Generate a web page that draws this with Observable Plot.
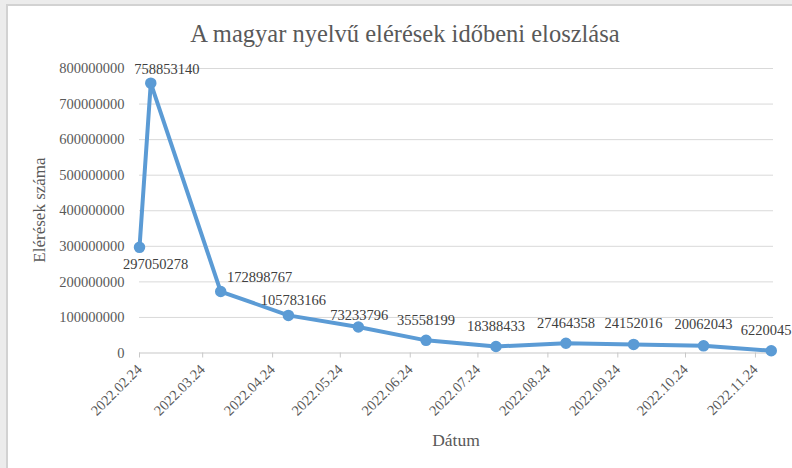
<!DOCTYPE html>
<html>
<head>
<meta charset="utf-8">
<script src="https://cdn.jsdelivr.net/npm/d3@7"></script>
<script src="https://cdn.jsdelivr.net/npm/@observablehq/plot@0.6"></script>
<style>
  html, body { margin: 0; padding: 0; }
  body { width: 792px; height: 468px; overflow: hidden; background: #ececec; position: relative; font-family: "Liberation Serif", "Times New Roman", serif; }
  #panel { position: absolute; left: 6px; top: 4px; width: 786px; height: 464px; background: #fff; border-left: 2px solid #d2d2d2; border-top: 2px solid #d2d2d2; }
  #chart { position: absolute; left: 0; top: 0; }
  #title { position: absolute; left: 0; width: 810px; top: 19px; text-align: center; font-size: 24.5px; line-height: 30px; color: #595959; }
  #ylab { position: absolute; left: 40px; top: 210px; transform: translate(-50%, -50%) rotate(-90deg); font-size: 17px; color: #595959; white-space: nowrap; }
  #xlab { position: absolute; left: 456px; top: 440px; transform: translate(-50%, -50%); font-size: 17.5px; color: #595959; white-space: nowrap; }
</style>
</head>
<body>
<div id="panel"></div>
<div id="chart"></div>
<div id="title">A magyar nyelvű elérések időbeni eloszlása</div>
<div id="ylab">Elérések száma</div>
<div id="xlab">Dátum</div>
<script>
// Data
const dates = ["2022-02-24", "2022-03-01", "2022-04-01", "2022-05-01", "2022-06-01", "2022-07-01",
               "2022-08-01", "2022-09-01", "2022-10-01", "2022-11-01", "2022-12-01"];
const values = [297050278, 758853140, 172898767, 105783166, 73233796, 35558199,
                18388433, 27464358, 24152016, 20062043, 6220045];
const xTickLabels = ["2022.02.24", "2022.03.24", "2022.04.24", "2022.05.24", "2022.06.24",
                     "2022.07.24", "2022.08.24", "2022.09.24", "2022.10.24", "2022.11.24"];
const yTicks = [0, 100000000, 200000000, 300000000, 400000000, 500000000, 600000000, 700000000, 800000000];

const parseLabel = d3.utcParse("%Y.%m.%d");
const data = dates.map((d, i) => ({date: new Date(d + "T00:00:00Z"), value: values[i]}));
const xTicks = xTickLabels.map(parseLabel);

// label placement (style only)
const labelOffsets = [[16, 17], [16, -14], [39, -14], [5, -15], [1, -12], [0, -20], [0, -20], [0, -20], [0, -21], [0, -22], [-5, -20]];

const font = "Liberation Serif, Times New Roman, serif";
const blue = "#5B9BD5";

const chart = Plot.plot({
  width: 792,
  height: 468,
  marginLeft: 139,
  marginRight: 19,
  marginTop: 68,
  marginBottom: 115.5,
  style: {background: "transparent", fontFamily: font, overflow: "visible"},
  x: {type: "utc", domain: [new Date("2022-02-24T00:00:00Z"), new Date("2022-12-02T00:00:00Z")]},
  y: {domain: [0, 800000000]},
  marks: [
    Plot.ruleY(yTicks.slice(1), {stroke: "#d9d9d9", strokeWidth: 1}),
    Plot.ruleY([0], {stroke: "#c8c8c8", strokeWidth: 1.2}),
    Plot.axisY({ticks: yTicks, tickFormat: d3.format("d"), tickSize: 0, tickPadding: 15,
                fontSize: 14.5, fill: "#595959", label: null}),
    Plot.axisX({ticks: xTicks, tickFormat: d3.utcFormat("%Y.%m.%d"), tickSize: 5, stroke: "#c8c8c8",
                tickRotate: -45, tickPadding: 9, fontSize: 14.5, fill: "#595959", label: null}),
    Plot.line(data, {x: "date", y: "value", stroke: blue, strokeWidth: 4, strokeLinejoin: "round"}),
    Plot.dot(data, {x: "date", y: "value", r: 5, fill: blue, stroke: blue}),
    ...labelOffsets.map((o, i) => Plot.text([data[i]], {
      x: "date", y: "value", text: d => String(d.value), dx: o[0], dy: o[1],
      fontSize: 14.5, fill: "#404040"
    }))
  ]
});
document.getElementById("chart").appendChild(chart);
</script>
</body>
</html>
